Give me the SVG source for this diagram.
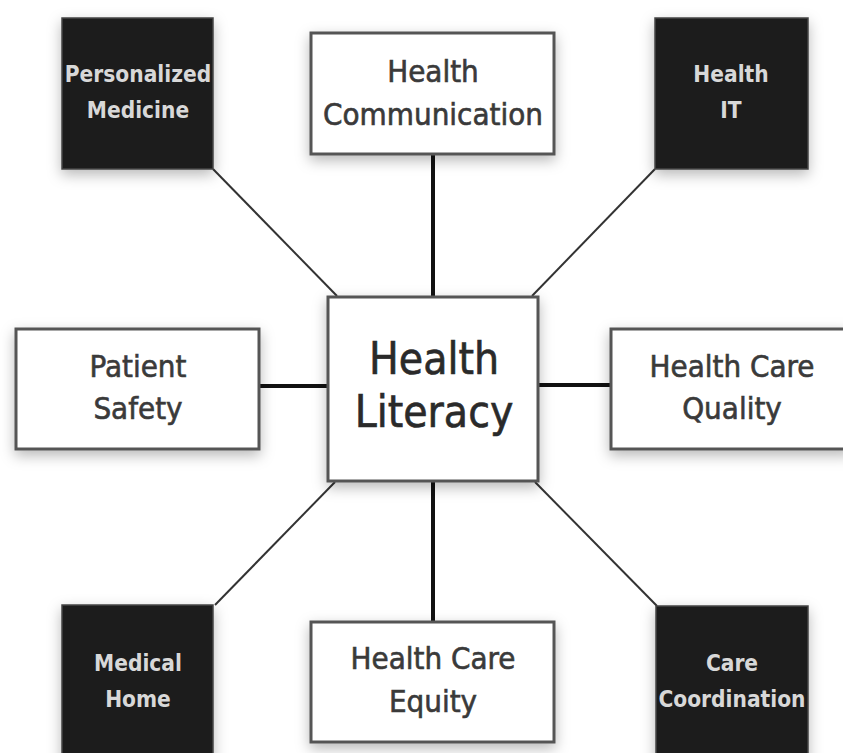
<svg xmlns="http://www.w3.org/2000/svg" width="843" height="753" viewBox="0 0 843 753">
<style>
.lt{fill:#fff;stroke:#555;stroke-width:3}
.dk{fill:#1c1c1c;stroke:#444;stroke-width:1.5}
.t{font-family:"DejaVu Sans Condensed","DejaVu Sans","Liberation Sans",sans-serif;font-stretch:condensed;fill:#3a3a3a;stroke:#3a3a3a;stroke-width:0.6;text-anchor:middle;font-size:31px}
.big{font-size:44px;fill:#2a2a2a;stroke:#2a2a2a}
.w{font-family:"DejaVu Sans Condensed","DejaVu Sans","Liberation Sans",sans-serif;font-stretch:condensed;font-weight:bold;fill:#d8d8d8;text-anchor:middle;font-size:22.5px}
.c{stroke:#111;stroke-width:4;fill:none}
.d{stroke:#333;stroke-width:2;fill:none}
</style>
<defs>
<filter id="sh" x="-30%" y="-30%" width="160%" height="170%">
<feDropShadow dx="0" dy="5" stdDeviation="7" flood-color="#000" flood-opacity="0.28"/>
</filter>
</defs>
<rect width="843" height="753" fill="#fff"/>
<g id="connectors">
<line class="c" x1="433" y1="155" x2="433" y2="296"/>
<line class="c" x1="433" y1="482" x2="433" y2="621"/>
<line class="c" x1="260" y1="386" x2="327" y2="386"/>
<line class="c" x1="539" y1="385" x2="610" y2="385"/>
<line class="d" x1="213" y1="169" x2="337" y2="296"/>
<line class="d" x1="655" y1="169" x2="532" y2="296"/>
<line class="d" x1="215" y1="605" x2="335" y2="482"/>
<line class="d" x1="535" y1="482" x2="657" y2="606"/>
</g>
<g id="personalized-medicine">
<rect class="dk" x="62" y="18" width="151" height="151" filter="url(#sh)"/>
<text class="w" x="138" y="82">Personalized</text>
<text class="w" x="138" y="118">Medicine</text>
</g>
<g id="health-communication">
<rect class="lt" x="311" y="33" width="243" height="121" filter="url(#sh)"/>
<text class="t" x="433" y="82">Health</text>
<text class="t" x="433" y="125">Communication</text>
</g>
<g id="health-it">
<rect class="dk" x="655" y="18" width="153" height="151" filter="url(#sh)"/>
<text class="w" x="731" y="82">Health</text>
<text class="w" x="731" y="118">IT</text>
</g>
<g id="patient-safety">
<rect class="lt" x="16" y="329" width="243" height="120" filter="url(#sh)"/>
<text class="t" x="138" y="377">Patient</text>
<text class="t" x="138" y="419">Safety</text>
</g>
<g id="health-literacy">
<rect class="lt" x="328" y="297" width="210" height="184" filter="url(#sh)"/>
<text class="t big" x="434" y="374">Health</text>
<text class="t big" x="434" y="427">Literacy</text>
</g>
<g id="health-care-quality">
<rect class="lt" x="611" y="329" width="240" height="120" filter="url(#sh)"/>
<text class="t" x="732" y="377">Health Care</text>
<text class="t" x="732" y="419">Quality</text>
</g>
<g id="medical-home">
<rect class="dk" x="62" y="605" width="151" height="160" filter="url(#sh)"/>
<text class="w" x="138" y="671">Medical</text>
<text class="w" x="138" y="707">Home</text>
</g>
<g id="health-care-equity">
<rect class="lt" x="311" y="622" width="243" height="120" filter="url(#sh)"/>
<text class="t" x="433" y="669">Health Care</text>
<text class="t" x="433" y="712">Equity</text>
</g>
<g id="care-coordination">
<rect class="dk" x="656" y="606" width="152" height="160" filter="url(#sh)"/>
<text class="w" x="732" y="671">Care</text>
<text class="w" x="732" y="707">Coordination</text>
</g>
</svg>
